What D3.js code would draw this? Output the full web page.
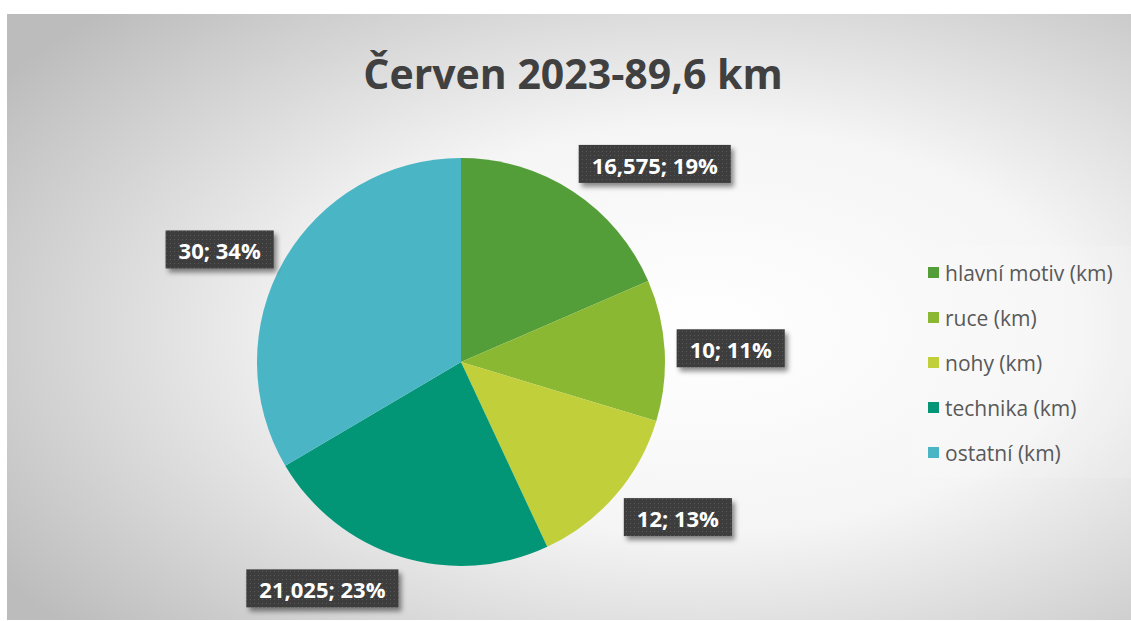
<!DOCTYPE html>
<html lang="cs">
<head>
<meta charset="UTF-8">
<title>Červen 2023</title>
<script src="https://d3js.org/d3.v7.min.js"></script>
<style>
  body { margin: 0; background: #fff; }
  svg { display: block; font-family: "Open Sans", "Noto Sans", sans-serif; }
</style>
</head>
<body>
<svg id="chart" width="1131" height="621"></svg>
<script>
  const title = "Červen 2023-89,6 km";
  const categories = ["hlavní motiv (km)", "ruce (km)", "nohy (km)", "technika (km)", "ostatní (km)"];
  const values = [16.575, 10, 12, 21.025, 30];
  const labels = ["16,575; 19%", "10; 11%", "12; 13%", "21,025; 23%", "30; 34%"];
  const colors = ["#549e39", "#8ab833", "#c0cf3a", "#029676", "#4ab5c4"];

  const W = 1131, H = 621;
  const svg = d3.select("#chart");
  const defs = svg.append("defs");

  // background gradient, light in the middle
  const bg = defs.append("radialGradient").attr("id", "bg")
    .attr("cx", "0.62").attr("cy", "0.52").attr("r", "0.75");
  bg.append("stop").attr("offset", "0").attr("stop-color", "#ffffff");
  bg.append("stop").attr("offset", "0.45").attr("stop-color", "#f5f5f5");
  bg.append("stop").attr("offset", "1").attr("stop-color", "#bcbcbc");

  const pat = defs.append("pattern").attr("id", "dots")
    .attr("width", 4).attr("height", 4).attr("patternUnits", "userSpaceOnUse");
  pat.append("rect").attr("width", 4).attr("height", 4).attr("fill", "#3d3d3d");
  pat.append("rect").attr("x", 1).attr("y", 1).attr("width", 1).attr("height", 1).attr("fill", "#595959");

  const shadow = defs.append("filter").attr("id", "shadow")
    .attr("x", "-20%").attr("y", "-30%").attr("width", "150%").attr("height", "180%");
  shadow.append("feDropShadow").attr("dx", 3).attr("dy", 4).attr("stdDeviation", 2.5)
    .attr("flood-color", "#000").attr("flood-opacity", 0.45);

  svg.append("rect").attr("x", 7).attr("y", 14).attr("width", W - 7).attr("height", H - 15)
    .attr("fill", "url(#bg)");

  svg.append("text")
    .attr("x", 573).attr("y", 89)
    .attr("text-anchor", "middle")
    .attr("font-size", 41).attr("font-weight", "bold")
    .attr("fill", "#404040")
    .text(title);

  const cx = 461, cy = 362, r = 204;
  const pie = d3.pie().sort(null).value(d => d);
  const arc = d3.arc().innerRadius(0).outerRadius(r);
  const arcs = pie(values);

  const g = svg.append("g").attr("transform", `translate(${cx},${cy})`);
  g.selectAll("path").data(arcs).join("path")
    .attr("d", arc)
    .attr("fill", (d, i) => colors[i]);

  // data labels, outside end
  const lg = g.append("g");
  arcs.forEach((d, i) => {
    const a = (d.startAngle + d.endAngle) / 2;
    const s = Math.sin(a), c = Math.cos(a);
    const ax = (r + 14) * s, ay = -(r + 14) * c;
    const grp = lg.append("g");
    const t = grp.append("text")
      .attr("font-size", 22).attr("font-weight", "bold")
      .attr("fill", "#fff")
      .attr("text-anchor", "middle")
      .attr("dominant-baseline", "central")
      .text(labels[i]);
    const bw = t.node().getComputedTextLength() + 26, bh = 38;
    const mx = ax + Math.sign(Math.abs(s) > 0.1 ? s : 0) * (bw / 2 - 2);
    const my = ay - c * bh / 2 + (c > 0.3 && s < 0 ? 5 : 0);
    grp.insert("rect", "text")
      .attr("x", mx - bw / 2).attr("y", my - bh / 2)
      .attr("width", bw).attr("height", bh)
      .attr("fill", "url(#dots)")
      .attr("filter", "url(#shadow)");
    t.attr("x", mx).attr("y", my + 1);
  });

  // legend
  const legY = d3.scalePoint().domain(categories).range([272, 452]);
  svg.append("rect").attr("x", 912).attr("y", 246).attr("width", 219).attr("height", 232)
    .attr("fill", "#ffffff").attr("fill-opacity", 0.12);
  const leg = svg.append("g").selectAll("g").data(categories).join("g")
    .attr("transform", d => `translate(928,${legY(d)})`);
  leg.append("rect").attr("x", 0).attr("y", -5).attr("width", 11).attr("height", 11)
    .attr("fill", (d, i) => colors[i]);
  leg.append("text").attr("x", 17).attr("y", 1)
    .attr("dominant-baseline", "central")
    .attr("font-size", 21).attr("fill", "#595959")
    .text(d => d);
</script>
</body>
</html>
